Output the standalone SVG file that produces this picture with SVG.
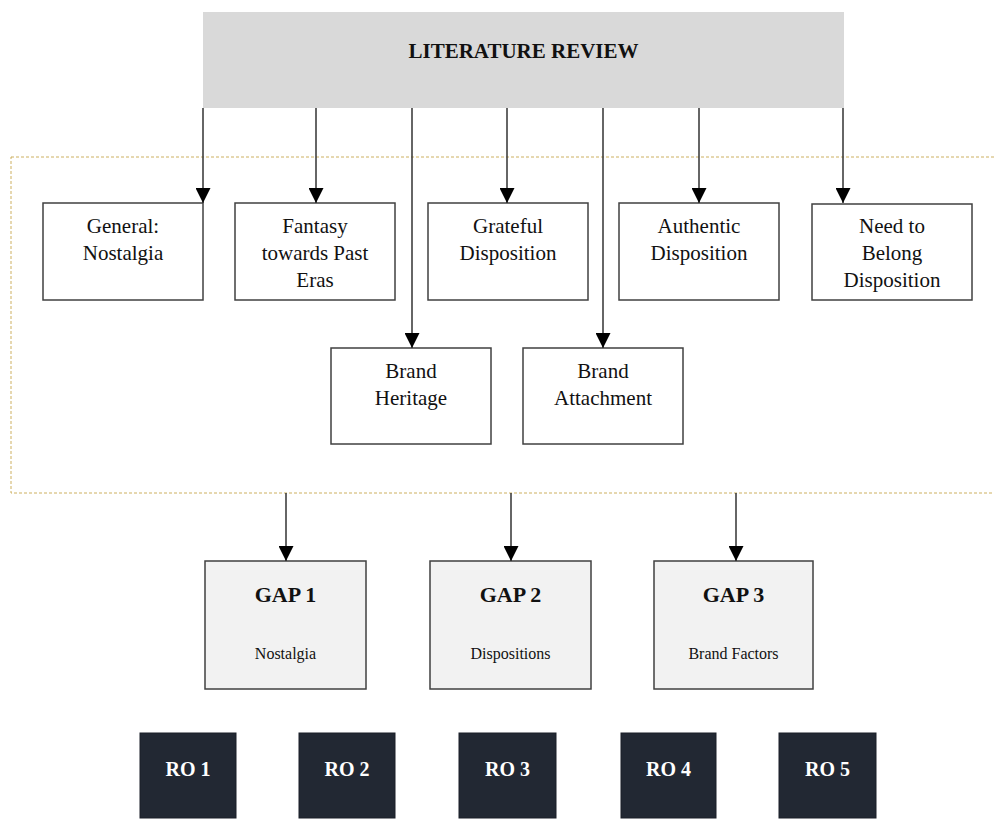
<svg xmlns="http://www.w3.org/2000/svg" width="994" height="820" viewBox="0 0 994 820">
<defs>
<marker id="arr" markerUnits="userSpaceOnUse" markerWidth="15" markerHeight="15" viewBox="0 0 15 15" refX="15" refY="7.5" orient="auto">
<path d="M0,0 L15,7.5 L0,15 z" fill="#000"/>
</marker>
<style>
.t{font-family:"Liberation Serif","Times New Roman",serif;font-size:21px;fill:#111;text-anchor:middle}
.box{fill:#fff;stroke:#404040;stroke-width:1.5}
.gap{fill:#f2f2f2;stroke:#404040;stroke-width:1.5}
.ro{fill:#222833;stroke:#1a1f28;stroke-width:1}
.gt{font-family:"Liberation Serif","Times New Roman",serif;font-size:22px;font-weight:bold;fill:#111;text-anchor:middle}
.gs{font-family:"Liberation Serif","Times New Roman",serif;font-size:16px;fill:#111;text-anchor:middle}
.rt{font-family:"Liberation Serif","Times New Roman",serif;font-size:20px;font-weight:bold;fill:#fff;text-anchor:middle}
.c{stroke:#333;stroke-width:1.5;fill:none;marker-end:url(#arr)}
</style>
</defs>
<rect x="11" y="157" width="990" height="336" fill="none" stroke="#cdb060" stroke-width="1" stroke-dasharray="3,2"/>
<g id="lit">
<rect x="203" y="12" width="641" height="96" fill="#d9d9d9"/>
<text x="523.5" y="58" class="t" font-weight="bold">LITERATURE REVIEW</text>
</g>
<g id="n1"><rect x="43" y="203" width="160" height="97" class="box"/><text class="t" x="123" y="233">General:</text><text class="t" x="123" y="260">Nostalgia</text></g>
<g id="n2"><rect x="235" y="203" width="160" height="97" class="box"/><text class="t" x="315" y="233">Fantasy</text><text class="t" x="315" y="260">towards Past</text><text class="t" x="315" y="287">Eras</text></g>
<g id="n3"><rect x="428" y="203" width="160" height="97" class="box"/><text class="t" x="508" y="233">Grateful</text><text class="t" x="508" y="260">Disposition</text></g>
<g id="n4"><rect x="619" y="203" width="160" height="97" class="box"/><text class="t" x="699" y="233">Authentic</text><text class="t" x="699" y="260">Disposition</text></g>
<g id="n5"><rect x="812" y="204" width="160" height="96" class="box"/><text class="t" x="892" y="233">Need to</text><text class="t" x="892" y="260">Belong</text><text class="t" x="892" y="287">Disposition</text></g>
<g id="n6"><rect x="331" y="348" width="160" height="96" class="box"/><text class="t" x="411" y="378">Brand</text><text class="t" x="411" y="405">Heritage</text></g>
<g id="n7"><rect x="523" y="348" width="160" height="96" class="box"/><text class="t" x="603" y="378">Brand</text><text class="t" x="603" y="405">Attachment</text></g>
<g id="gap1"><rect x="205" y="561" width="161" height="128" class="gap"/><text class="gt" x="285.5" y="602">GAP 1</text><text class="gs" x="285.5" y="659">Nostalgia</text></g>
<g id="gap2"><rect x="430" y="561" width="161" height="128" class="gap"/><text class="gt" x="510.5" y="602">GAP 2</text><text class="gs" x="510.5" y="659">Dispositions</text></g>
<g id="gap3"><rect x="654" y="561" width="159" height="128" class="gap"/><text class="gt" x="733.5" y="602">GAP 3</text><text class="gs" x="733.5" y="659">Brand Factors</text></g>
<g id="ro1"><rect x="140" y="733" width="96" height="85" class="ro"/><text class="rt" x="188" y="776">RO 1</text></g>
<g id="ro2"><rect x="299" y="733" width="96" height="85" class="ro"/><text class="rt" x="347" y="776">RO 2</text></g>
<g id="ro3"><rect x="459" y="733" width="97" height="85" class="ro"/><text class="rt" x="507.5" y="776">RO 3</text></g>
<g id="ro4"><rect x="621" y="733" width="95" height="85" class="ro"/><text class="rt" x="668.5" y="776">RO 4</text></g>
<g id="ro5"><rect x="779" y="733" width="97" height="85" class="ro"/><text class="rt" x="827.5" y="776">RO 5</text></g>
<g id="connectors">
<line class="c" x1="203" y1="108" x2="203" y2="203"/>
<line class="c" x1="316" y1="108" x2="316" y2="203"/>
<line class="c" x1="412" y1="108" x2="412" y2="348"/>
<line class="c" x1="507" y1="108" x2="507" y2="203"/>
<line class="c" x1="603" y1="108" x2="603" y2="348"/>
<line class="c" x1="699" y1="108" x2="699" y2="203"/>
<line class="c" x1="843" y1="108" x2="843" y2="203"/>
<line class="c" x1="286" y1="493" x2="286" y2="561"/>
<line class="c" x1="511" y1="493" x2="511" y2="561"/>
<line class="c" x1="736" y1="493" x2="736" y2="561"/>
</g>
</svg>
